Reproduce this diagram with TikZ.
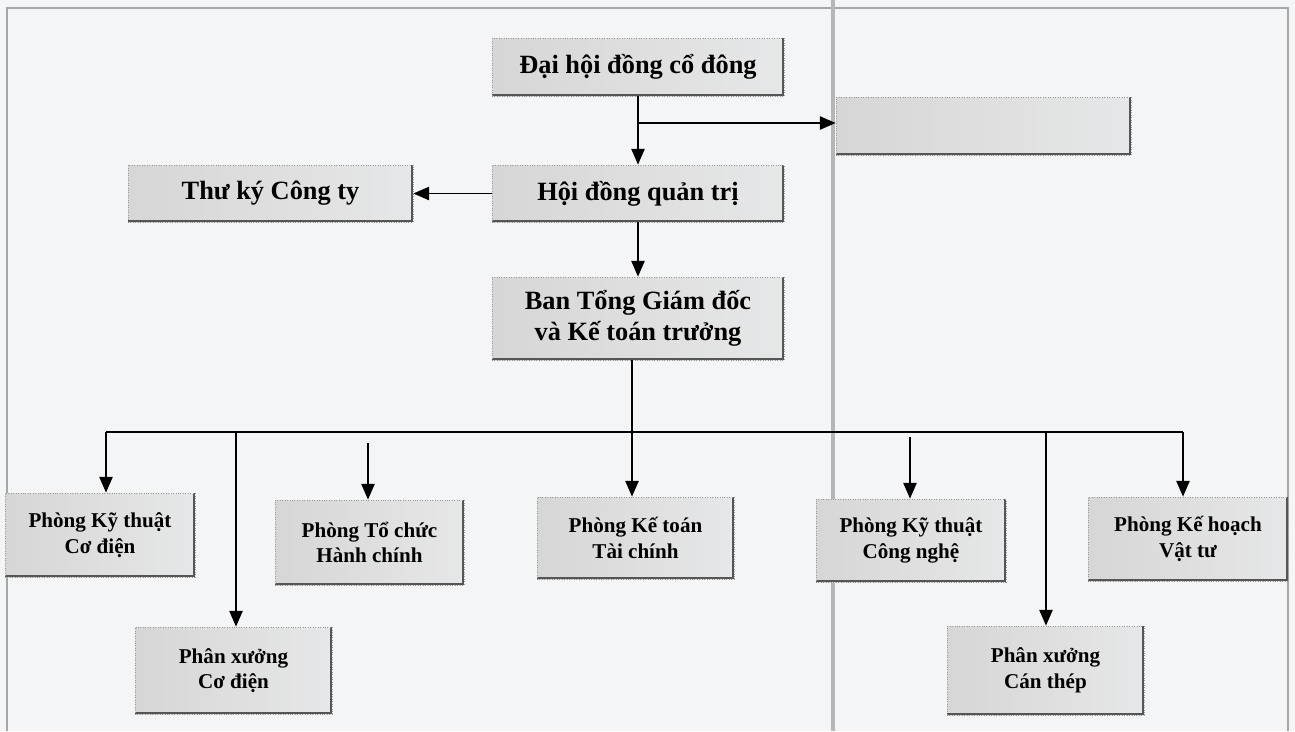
\documentclass[tikz,border=0pt]{standalone}
\usepackage{fontspec}
\setmainfont{Liberation Serif}
\usetikzlibrary{arrows.meta,calc}
\definecolor{paper}{HTML}{F3F5F7}
\definecolor{boxL}{HTML}{D6D6D6}
\definecolor{boxR}{HTML}{E6E7E8}
\definecolor{boxedge}{HTML}{9A9A9A}
\definecolor{shadowc}{HTML}{555555}
\definecolor{foldc}{HTML}{B4B6B8}
\tikzset{
  orgbox/.style={draw=boxedge, line width=0.4pt, densely dotted, left color=boxL, right color=boxR,
    align=center, inner sep=2pt, font=\bfseries\fontsize{15}{17.5}\selectfont,
    path picture={
      \draw[shadowc, line width=1.4pt, solid]
        ([yshift=0.7pt]path picture bounding box.south west) -- ([xshift=-0.7pt,yshift=0.7pt]path picture bounding box.south east)
        -- ([xshift=-0.7pt]path picture bounding box.north east);
    }},
  smallbox/.style={orgbox, font=\bfseries\fontsize{12}{14.5}\selectfont},
  arr/.style={line width=1.1pt, -{Triangle[length=9pt,width=7.5pt]}},
  ln/.style={line width=1.1pt},
}
\begin{document}
\begin{tikzpicture}[x=0.02cm,y=-0.02cm]
\useasboundingbox (0,0) rectangle (1295,731);
\fill[paper] (0,0) rectangle (1295,731);
% scan frame and fold
\draw[gray!70, line width=1pt] (7,731) -- (7,8) -- (1288,8) -- (1288,731);
\fill[foldc] (831,0) rectangle (835,731);

% top boxes
\node[orgbox, minimum width=5.84cm, minimum height=1.16cm] (dh) at (638,67) {Đại hội đồng cổ đông};
\node[orgbox, minimum width=5.9cm, minimum height=1.16cm] (empty) at (983.5,126) {};
\node[orgbox, minimum width=5.7cm, minimum height=1.14cm] (tk) at (270.5,193.5) {Thư ký Công ty};
\node[orgbox, minimum width=5.84cm, minimum height=1.14cm] (hd) at (638,193.5) {Hội đồng quản trị};
\node[orgbox, minimum width=5.84cm, minimum height=1.66cm] (ban) at (638,318.5) {\rule{0pt}{8pt}Ban Tổng Giám đốc\\và Kế toán trưởng};

% lower boxes
\node[smallbox, minimum width=3.8cm, minimum height=1.68cm] (ktcd) at (100,535) {Phòng Kỹ thuật\\Cơ điện};
\node[smallbox, minimum width=3.78cm, minimum height=1.7cm] (tchc) at (369.5,542.5) {Phòng Tổ chức\\Hành chính};
\node[smallbox, minimum width=3.94cm, minimum height=1.64cm] (ktc) at (635.5,538) {Phòng Kế toán\\Tài chính};
\node[smallbox, minimum width=3.8cm, minimum height=1.66cm] (ktcn) at (911,540.5) {Phòng Kỹ thuật\\Công nghệ};
\node[smallbox, minimum width=4cm, minimum height=1.68cm] (khvt) at (1188,539) {Phòng Kế hoạch\\Vật tư};
\node[smallbox, minimum width=3.94cm, minimum height=1.74cm] (pxcd) at (233.5,670.5) {Phân xưởng\\Cơ điện};
\node[smallbox, minimum width=3.94cm, minimum height=1.78cm] (pxct) at (1045.5,670.5) {Phân xưởng\\Cán thép};

% upper connectors
\draw[arr] (dh) -- (hd);
\coordinate (br) at (638,123);
\draw[arr] (br) -- (br -| empty.west);
\draw[arr] (hd.west) -- (tk.east);
\draw[arr] (hd) -- (ban);

% bus
\coordinate (bus) at (632,432);
\coordinate (busL) at (106,432);
\coordinate (busR) at (1183,432);
\draw[ln] (ban.south -| bus) -- (bus);
\draw[ln] (busL) -- (busR);

% drops
\coordinate (d1) at (106,432);
\coordinate (d2) at (236,432);
\coordinate (d3) at (368,443);
\coordinate (d4) at (632,432);
\coordinate (d5) at (910,437);
\coordinate (d6) at (1046,432);
\coordinate (d7) at (1183,432);
\draw[arr] (d1) -- (d1 |- ktcd.north);
\draw[arr] (d2) -- (d2 |- pxcd.north);
\draw[arr] (d3) -- (d3 |- tchc.north);
\draw[arr] (d4) -- (d4 |- ktc.north);
\draw[arr] (d5) -- (d5 |- ktcn.north);
\draw[arr] (d6) -- (d6 |- pxct.north);
\draw[arr] (d7) -- (d7 |- khvt.north);
\end{tikzpicture}
\end{document}
